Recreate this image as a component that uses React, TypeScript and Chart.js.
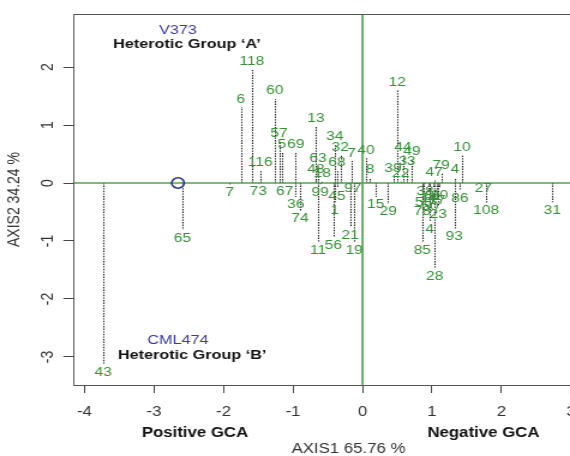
import React, { useEffect, useRef } from 'react';
import { Chart, registerables } from 'chart.js';

Chart.register(...registerables);

// Genotype labels and their biplot coordinates
const genotypes = ['118','6','60','13','57','5','69','116','34','32','7','40','63','68','48','18','8','12','44','49','33','39','22','79','47','4','10',
  '7','73','67','36','74','99','45','1','97','11','56','21','19','15','29','65','43','27','108','86','31','78','23','4','85','28','93','38','61','58','17','50','14','20'];
const axis1 = [-1.59,-1.75,-1.26,-0.67,-1.20,-1.16,-0.96,-1.47,-0.40,-0.32,-0.16,0.05,-0.64,-0.37,-0.67,-0.58,0.11,0.50,0.58,0.71,0.64,0.44,0.55,1.13,1.03,1.33,1.43,
  -1.91,-1.50,-1.12,-0.96,-0.90,-0.61,-0.37,-0.40,-0.14,-0.64,-0.42,-0.18,-0.12,0.19,0.37,-2.59,-3.73,1.74,1.78,1.40,2.73,0.86,1.09,0.97,0.86,1.04,1.32,0.90,1.01,0.88,1.07,0.97,0.94,1.11];
const axis2 = [1.95,1.31,1.45,0.98,0.71,0.52,0.52,0.22,0.66,0.47,0.38,0.43,0.28,0.22,0.09,0.02,0.09,1.60,0.48,0.41,0.24,0.12,0.02,0.16,0.05,0.09,0.47,
  -0.03,-0.01,-0.01,-0.24,-0.48,-0.02,-0.09,-0.33,0,-1.02,-0.93,-0.76,-1.02,-0.24,-0.36,-0.81,-3.12,0,-0.34,-0.12,-0.33,-0.36,-0.40,-0.67,-1.02,-1.48,-0.79,-0.01,-0.09,-0.19,-0.17,-0.26,-0.12,-0.07];

// Tester position
const testerX = [-2.655];
const testerY = [0];

const xTicks = [-4, -3, -2, -1, 0, 1, 2, 3];
const yTicks = [-3, -2, -1, 0, 1, 2];

const xTitle = 'AXIS1 65.76 %';
const yTitle = 'AXIS2 34.24 %';
const notes = ['V373', 'Heterotic Group \u2018A\u2019', 'CML474', 'Heterotic Group \u2018B\u2019'];
const noteX = [-2.655, -2.525, -2.655, -2.45];
const noteY = [2.638, 2.397, -2.707, -2.966];
const bottomNotes = ['Positive GCA', 'Negative GCA'];
const bottomNoteX = [-2.41, 1.74];

const FONT = "'Liberation Sans', Arial, Helvetica, sans-serif";
const STRETCH = 1.2;

const rPlugin = {
  id: 'rstyle',
  beforeDatasetsDraw(chart: any) {
    const { ctx, chartArea: a, scales } = chart;
    const xs = scales.x, ys = scales.y;
    const y0 = ys.getPixelForValue(0);
    const x0 = xs.getPixelForValue(0);
    ctx.save();
    // dotted drop lines
    const meta = chart.getDatasetMeta(0);
    ctx.strokeStyle = '#1e1e1e';
    ctx.lineWidth = 1.1;
    ctx.setLineDash([1.4, 1.2]);
    meta.data.forEach((el: any) => {
      const px = Math.round(el.x) + 0.5;
      ctx.beginPath();
      ctx.moveTo(px, y0);
      ctx.lineTo(px, el.y);
      ctx.stroke();
    });
    ctx.setLineDash([]);
    // green reference lines
    ctx.strokeStyle = '#56a156';
    ctx.lineWidth = 1.7;
    ctx.beginPath();
    ctx.moveTo(a.left, y0);
    ctx.lineTo(a.right, y0);
    ctx.moveTo(x0, a.top);
    ctx.lineTo(x0, a.bottom);
    ctx.stroke();
    ctx.restore();
  },
  afterDatasetsDraw(chart: any) {
    const { ctx, chartArea: a, scales } = chart;
    const xs = scales.x, ys = scales.y;
    ctx.save();
    // genotype labels
    const meta = chart.getDatasetMeta(0);
    ctx.fillStyle = '#3a8e3a';
    ctx.font = `13px ${FONT}`;
    ctx.textAlign = 'center';
    ctx.textBaseline = 'middle';
    meta.data.forEach((el: any, i: number) => {
      const v = axis2[i];
      const off = v > 0.001 ? -8 : v < -0.001 ? 8 : 5;
      ctx.fillText(genotypes[i], el.x, el.y + off);
    });
    // box
    ctx.strokeStyle = '#555';
    ctx.lineWidth = 1;
    ctx.strokeRect(Math.round(a.left) + 0.5, Math.round(a.top) + 0.5, a.right - a.left, Math.round(a.bottom - a.top));
    // rotated y tick labels
    ctx.fillStyle = '#333';
    ctx.font = `14px ${FONT}`;
    yTicks.forEach((v) => {
      ctx.save();
      ctx.translate(40, ys.getPixelForValue(v));
      ctx.rotate(-Math.PI / 2);
      ctx.fillText(String(v), 0, 0);
      ctx.restore();
    });
    // annotations
    notes.forEach((t, i) => {
      const bold = t.startsWith('Heterotic');
      ctx.font = `${bold ? 'bold ' : ''}13.5px ${FONT}`;
      ctx.fillStyle = bold ? '#111' : '#3b3b96';
      ctx.fillText(t, xs.getPixelForValue(noteX[i]), ys.getPixelForValue(noteY[i]));
    });
    ctx.font = `bold 14px ${FONT}`;
    ctx.fillStyle = '#111';
    bottomNotes.forEach((t, i) => {
      ctx.fillText(t, xs.getPixelForValue(bottomNoteX[i]), a.bottom + 48);
    });
    ctx.restore();
  },
};

export default function App() {
  const ref = useRef<HTMLCanvasElement | null>(null);
  useEffect(() => {
    if (!ref.current) return;
    const points = axis1.map((x, i) => ({ x, y: axis2[i] }));
    const tester = testerX.map((x, i) => ({ x, y: testerY[i] }));
    const chart = new Chart(ref.current, {
      type: 'scatter',
      data: {
        datasets: [
          { data: points, pointRadius: 0, pointHoverRadius: 0, showLine: false },
          { data: tester, pointRadius: 5.2, pointHoverRadius: 5.2, borderColor: '#2b3a8c', borderWidth: 1.6, backgroundColor: 'rgba(0,0,0,0)', pointStyle: 'circle' },
        ],
      },
      options: {
        responsive: false,
        animation: false,
        devicePixelRatio: 1,
        events: [],
        layout: { padding: { top: 14, right: 20, left: 0, bottom: 0 } },
        plugins: { legend: { display: false }, tooltip: { enabled: false } },
        scales: {
          x: {
            type: 'linear',
            min: -4.165,
            max: 3.763,
            afterBuildTicks: (s: any) => { s.ticks = xTicks.map((v) => ({ value: v })); },
            afterFit: (s: any) => { s.height = 71; },
            border: { display: false },
            grid: { drawOnChartArea: false, drawTicks: true, tickLength: 8, tickColor: '#444', color: '#444' },
            ticks: { color: '#333', font: { family: FONT, size: 14 }, padding: 11, maxRotation: 0, autoSkip: false },
            title: { display: true, text: xTitle, color: '#333', font: { family: FONT, size: 14, lineHeight: 1 }, padding: { top: 0, bottom: 0 } },
          },
          y: {
            type: 'linear',
            min: -3.483,
            max: 2.914,
            afterBuildTicks: (s: any) => { s.ticks = yTicks.map((v) => ({ value: v })); },
            afterFit: (s: any) => { s.width = 73 / STRETCH; },
            border: { display: false },
            grid: { drawOnChartArea: false, drawTicks: true, tickLength: 8, tickColor: '#444', color: '#444' },
            ticks: { display: false },
            title: { display: true, text: yTitle, color: '#333', font: { family: FONT, size: 14, lineHeight: 1 }, padding: { top: 5, bottom: 0 } },
          },
        },
      },
      plugins: [rPlugin],
    } as any);
    return () => chart.destroy();
  }, []);
  return (
    <div style={{ position: 'fixed', left: 0, top: 0, width: 570, height: 456, overflow: 'hidden', background: '#fff' }}>
      <canvas ref={ref} width={540} height={456} style={{ width: `${540 * STRETCH}px`, height: '456px', display: 'block' }} />
    </div>
  );
}
